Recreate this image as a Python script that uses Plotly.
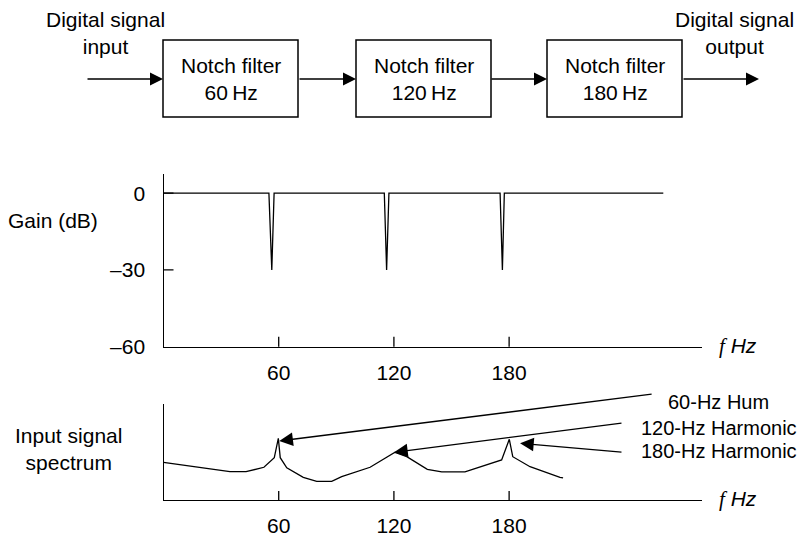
import plotly.graph_objects as go

W, H = 806, 537
FONT = "Liberation Sans, Arial, Helvetica, sans-serif"
FS = 21
FS_LBL = 20
LW = 1.3

# ---------------- data ----------------
gain_freq = [0, 54.9, 56.4, 57.6, 115.0, 116.2, 117.4, 175.3, 176.5, 177.5, 260.3]
gain_db = [0, 0, -30, 0, 0, -30, 0, 0, -30, 0, 0]

spec_freq = [0, 34.6, 43.0, 52.3, 57.7, 59.8, 60.8, 64.2, 72.8, 79.8, 87.6, 92.8,
             107.6, 116.3, 120.6, 126.7, 137.4, 144.9, 157.0, 176.1, 180.1, 181.9,
             190.9, 206.5, 208.1]
spec_level = [3.93, 2.95, 2.95, 3.41, 4.41, 6.43, 4.41, 3.36, 2.36, 1.95, 1.95, 2.43,
              3.41, 4.51, 4.97, 4.51, 3.20, 2.92, 2.92, 4.17, 6.32, 4.51,
              3.47, 2.36, 2.30]

freq_ticks = [60, 120, 180]
freq_tick_text = ["60", "120", "180"]
gain_ticks = [0, -30, -60]
gain_tick_text = ["0", "–30", "–60"]
gain_tick_marks = [0, -30]

filter_labels = ["60\u2009Hz", "120\u2009Hz", "180\u2009Hz"]

harmonic_labels = ["60-Hz Hum", "120-Hz Harmonic", "180-Hz Harmonic"]
harmonic_tip_freq = [60.3, 120.1, 185.7]
harmonic_tip_level = [6.15, 4.97, 5.9]
harmonic_tail_freq = [255.0, 239.3, 239.3]
harmonic_tail_level = [11.04, 8.02, 4.97]

# ---------------- layout geometry (pixels -> paper) ----------------
def px(x):
    return x / W


def py(y):
    return 1 - y / H


X_RANGE = [0, 280.3]
x_dom = [px(163.5), px(701.7)]
gain_dom = [py(346.7), py(174)]
spec_dom = [py(500), py(404)]

fig = go.Figure()
fig.add_trace(go.Scatter(x=gain_freq, y=gain_db, mode="lines", xaxis="x", yaxis="y",
                         line=dict(color="black", width=LW), hoverinfo="skip",
                         showlegend=False))
fig.add_trace(go.Scatter(x=spec_freq, y=spec_level, mode="lines", xaxis="x2", yaxis="y2",
                         line=dict(color="black", width=LW), hoverinfo="skip",
                         showlegend=False))

axis_common = dict(showline=True, linecolor="black", linewidth=LW, showgrid=False,
                   zeroline=False, ticks="", automargin=False, fixedrange=True,
                   tickfont=dict(family=FONT, size=FS, color="black"))

fig.update_layout(
    width=W, height=H, autosize=False,
    margin=dict(l=0, r=0, t=0, b=0, pad=0),
    paper_bgcolor="white", plot_bgcolor="rgba(0,0,0,0)",
    font=dict(family=FONT, size=FS, color="black"),
    showlegend=False,
    xaxis=dict(axis_common, domain=x_dom, range=X_RANGE, anchor="y",
               tickmode="array", tickvals=freq_ticks, ticktext=freq_tick_text,
               ticklabelstandoff=7),
    yaxis=dict(axis_common, domain=gain_dom, range=[-60, 7.5], anchor="x",
               tickmode="array", tickvals=gain_ticks, ticktext=gain_tick_text,
               ticklabelstandoff=13),
    xaxis2=dict(axis_common, domain=x_dom, range=X_RANGE, anchor="y2",
                tickmode="array", tickvals=freq_ticks, ticktext=freq_tick_text,
                ticklabelstandoff=7),
    yaxis2=dict(axis_common, domain=spec_dom, range=[0, 10], anchor="x2",
                showticklabels=False),
)

tick_line = dict(color="black", width=LW)
# crossing tick marks
for f in freq_ticks:
    fig.add_shape(type="line", xref="x", yref="y", x0=f, x1=f, ysizemode="pixel",
                  yanchor=-60, y0=-10, y1=10, line=tick_line)
    fig.add_shape(type="line", xref="x2", yref="y2", x0=f, x1=f, ysizemode="pixel",
                  yanchor=0, y0=-10, y1=9, line=tick_line)
for g in gain_tick_marks:
    fig.add_shape(type="line", xref="x", yref="y", y0=g, y1=g, xsizemode="pixel",
                  xanchor=0, x0=-10, x1=10, line=tick_line)

# ---------------- block diagram ----------------
box_left = [163, 356, 547]
box_w = 135
box_top, box_bot = 40, 117
arrow_y = 79
for i, lbl in enumerate(filter_labels):
    l = box_left[i]
    fig.add_shape(type="rect", xref="paper", yref="paper", x0=px(l), x1=px(l + box_w),
                  y0=py(box_bot), y1=py(box_top), line=dict(color="black", width=1.5))
    fig.add_annotation(xref="paper", yref="paper", x=px(l + box_w / 2), y=py(79),
                       text="Notch filter<br>" + lbl, showarrow=False,
                       xanchor="center", yanchor="middle", font=dict(size=FS))

arrow_segments = [(86, 163), (298, 356), (490, 547), (682, 759)]
for x_from, x_to in arrow_segments:
    fig.add_annotation(xref="paper", yref="paper", x=px(x_to), y=py(arrow_y),
                       ax=x_from - x_to, ay=0, axref="pixel", ayref="pixel",
                       text="", showarrow=True, arrowhead=2, arrowsize=2,
                       arrowwidth=LW, arrowcolor="black", standoff=0)

fig.add_annotation(xref="paper", yref="paper", x=px(105), y=py(33.5),
                   text="Digital signal<br>input", showarrow=False,
                   xanchor="center", yanchor="middle", font=dict(size=FS))
fig.add_annotation(xref="paper", yref="paper", x=px(734.5), y=py(33.5),
                   text="Digital signal<br>output", showarrow=False,
                   xanchor="center", yanchor="middle", font=dict(size=FS))

# ---------------- axis titles ----------------
fig.add_annotation(xref="paper", yref="paper", x=px(53.3), y=py(220),
                   text="Gain (dB)", showarrow=False, xanchor="center",
                   yanchor="middle", font=dict(size=FS))
fig.add_annotation(xref="paper", yref="paper", x=px(68.5), y=py(449),
                   text="Input signal<br>spectrum", showarrow=False,
                   xanchor="center", yanchor="middle", font=dict(size=FS))

fhz = '<i><span style="font-family:Liberation Serif, Times New Roman, serif">f</span> Hz</i>'
for yy in (346, 499):
    fig.add_annotation(xref="paper", yref="paper", x=px(716.7), y=py(yy), text=fhz,
                       showarrow=False, xanchor="left", yanchor="middle",
                       font=dict(size=FS))

# ---------------- harmonic arrows ----------------
label_pos = [(666, 401.7), (639, 427.7), (639, 451)]
for i, lbl in enumerate(harmonic_labels):
    fig.add_annotation(xref="x2", yref="y2", x=harmonic_tip_freq[i], y=harmonic_tip_level[i],
                       axref="x2", ayref="y2", ax=harmonic_tail_freq[i],
                       ay=harmonic_tail_level[i], text="", showarrow=True,
                       arrowhead=2, arrowsize=2.1, arrowwidth=LW, arrowcolor="black",
                       standoff=0)
    lx, ly = label_pos[i]
    fig.add_annotation(xref="paper", yref="paper", x=px(lx), y=py(ly), text=lbl,
                       showarrow=False, xanchor="left", yanchor="middle",
                       font=dict(size=FS_LBL))

fig.write_html("out.html", config={"displayModeBar": False},
               post_script="document.body.style.margin='0px';")
